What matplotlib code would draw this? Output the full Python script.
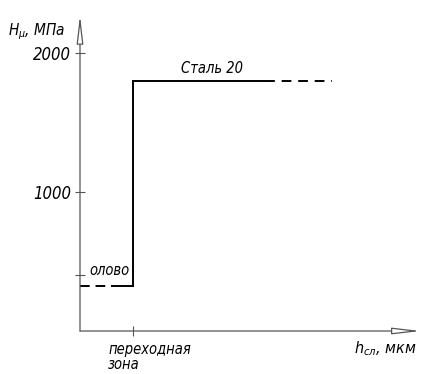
"""Step chart: microhardness across the tin / steel 20 transition zone."""
import matplotlib
matplotlib.use("Agg")
import matplotlib.pyplot as plt

plt.rcParams["font.family"] = ["DejaVu Sans"]
plt.rcParams["font.style"] = "italic"
plt.rcParams["font.stretch"] = "condensed"
plt.rcParams["mathtext.fontset"] = "dejavusans"

# data (x in arbitrary depth units, transition zone at x = 1)
tin_dash_x = [0.0, 0.6]
tin_solid_x = [0.6, 1.0]
tin_h = 320
step_x = [1.0, 1.0]
step_y = [320, 1800]
steel_solid_x = [1.0, 3.58]
steel_dash_x = [3.58, 4.75]
steel_h = 1800

yticks = [400, 1000, 2000]
yticklabels = ["", "1000", "2000"]
xticks = [1.0]
xticklabels = [""]

AXIS = "#555555"

fig = plt.figure(figsize=(4.25, 3.74), dpi=100)
ax = fig.add_axes([80 / 425, 43 / 374, 339 / 425, 320 / 374])
ax.set_xlim(0, 6.4)
ax.set_ylim(0, 2300)

for s in ["top", "right", "left", "bottom"]:
    ax.spines[s].set_visible(False)

# axes with hollow arrows
arrow = dict(arrowstyle="-|>,head_length=1.7,head_width=0.2", fc="white",
             ec=AXIS, lw=0.9, shrinkA=0, shrinkB=0)
ax.annotate("", xy=(0, 2270), xytext=(0, 0), arrowprops=arrow,
            annotation_clip=False)
ax.annotate("", xy=(6.43, 0), xytext=(0, 0), arrowprops=arrow,
            annotation_clip=False)

ax.set_yticks(yticks)
ax.set_yticklabels(yticklabels)
ax.set_xticks(xticks)
ax.set_xticklabels(xticklabels)
ax.tick_params(axis="both", direction="inout", length=7, width=0.8,
               color=AXIS, labelsize=12, pad=3)

# step profile
ax.plot(tin_dash_x, [tin_h, tin_h], color="black", lw=1.4,
        linestyle=(0, (5, 3)), solid_capstyle="butt")
ax.plot(tin_solid_x, [tin_h, tin_h], color="black", lw=1.4)
ax.plot(step_x, step_y, color="black", lw=1.4)
ax.plot(steel_solid_x, [steel_h, steel_h], color="black", lw=1.4)
ax.plot(steel_dash_x, [steel_h, steel_h], color="black", lw=1.4,
        linestyle=(2.5, (5, 3.5)))

# labels
ax.text(0.18, 380, "олово", fontsize=10.5, ha="left", va="bottom")
ax.text(1.9, 1830, "Сталь 20", fontsize=10.5, ha="left", va="bottom")
ax.text(0.53, -80, "переходная\nзона", fontsize=10.5, ha="left", va="top",
        linespacing=0.98)
ax.text(-1.36, 2150, r"$H_{\mu}$, МПа", fontsize=11, ha="left",
        va="center")
ax.text(5.18, -60, r"$h_{сл}$, мкм", fontsize=11.5, ha="left", va="top")

fig.savefig("out.png", dpi=100)
